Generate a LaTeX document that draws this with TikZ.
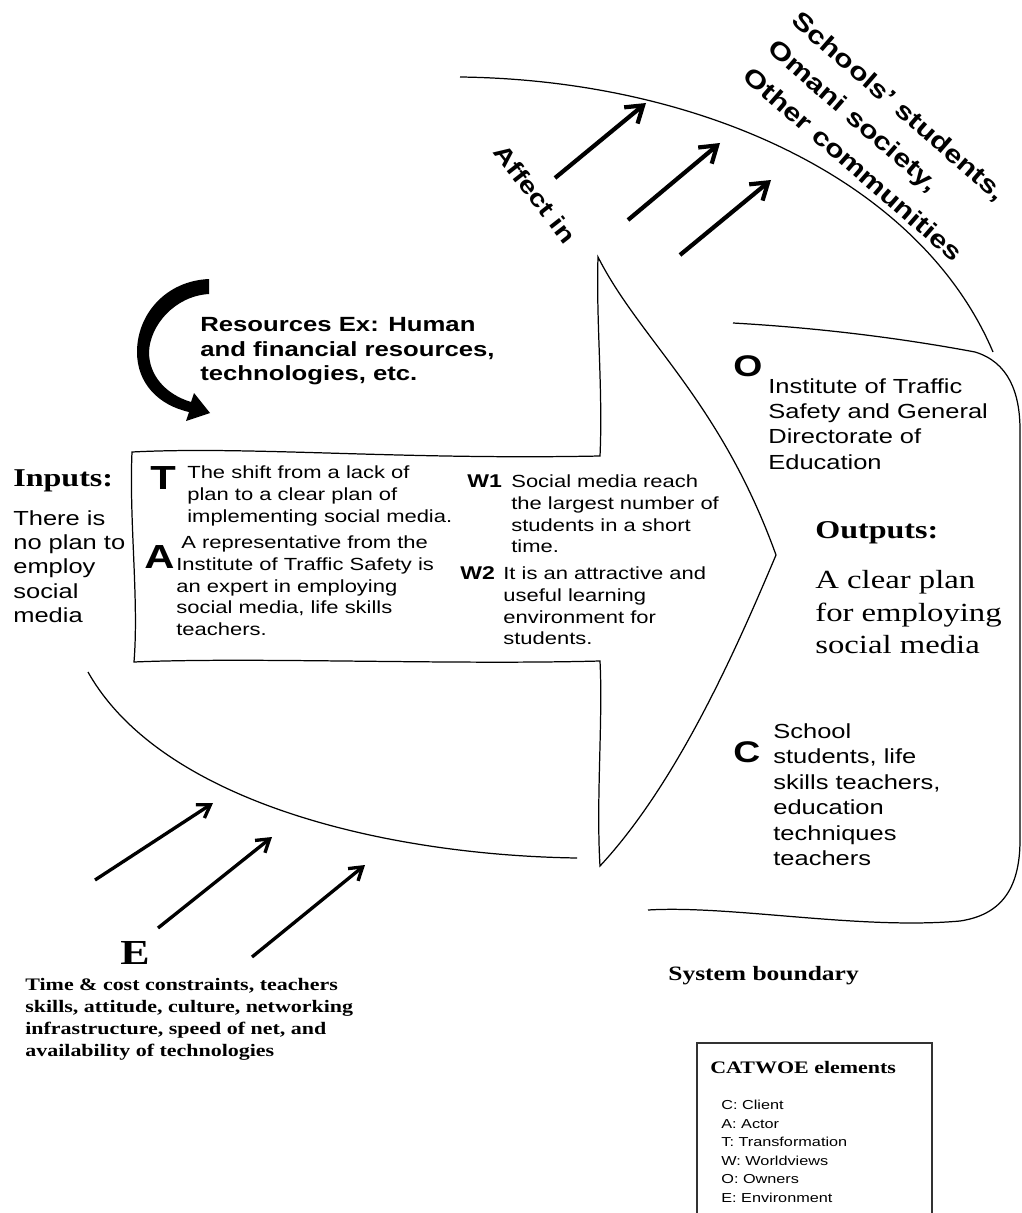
\documentclass[tikz,border=0pt]{standalone}
\usepackage{fontspec}
\setmainfont[FakeStretch=1.25]{Liberation Serif}
\setsansfont[FakeStretch=1.25]{Liberation Sans}
\usetikzlibrary{arrows.meta}

\tikzset{
  txt/.style={inner sep=0pt, anchor=north west, align=left},
  body/.style={txt, font=\sffamily\fontsize{11.6}{14.4}\selectfont},
  boxtext/.style={txt, font=\sffamily\fontsize{10}{12.5}\selectfont},
  bigletter/.style={txt, font=\sffamily\bfseries\fontsize{19}{19}\selectfont},
  sideletter/.style={txt, font=\sffamily\bfseries\fontsize{17}{17}\selectfont},
  wletter/.style={txt, font=\sffamily\bfseries\fontsize{10.5}{10.5}\selectfont},
  heading/.style={txt, font=\rmfamily\bfseries\fontsize{14.6}{14.6}\selectfont},
  edge/.style={line width=0.7pt},
  affectarrow/.style={line width=2.4pt, -{Straight Barb[length=9pt,width=12pt]}},
  envarrow/.style={line width=1.9pt, -{Straight Barb[length=7pt,width=9pt]}}
}

\begin{document}
\begin{tikzpicture}[x=0.02cm, y=-0.02cm]
\useasboundingbox (0,0) rectangle (1021,1213);

% system boundary curves
\draw[edge] (460,77) .. controls (700,80) and (920,180) .. (993,352);
\draw[edge] (88,672) .. controls (160,800) and (380,855) .. (577,858);
\draw[edge] (733,323) .. controls (820,328) and (900,338) .. (975,352)
  .. controls (1008,362) and (1020,392) .. (1020,430) -- (1020,840)
  .. controls (1020,890) and (1000,915) .. (960,921)
  .. controls (860,930) and (730,905) .. (648,910);

% transformation sheet and arrow
\draw[edge] (132,452) .. controls (250,446) and (400,460) .. (600,456)
  .. controls (603,390) and (596,320) .. (598,257)
  .. controls (640,340) and (720,400) .. (776,555)
  .. controls (740,640) and (680,780) .. (600,866)
  .. controls (596,800) and (603,720) .. (600,661)
  .. controls (450,665) and (250,657) .. (134,662)
  .. controls (139,600) and (129,520) .. (132,452) -- cycle;

% resources arrow
\fill (209,279) -- (209,294)
  .. controls (175,296) and (150,325) .. (149,352)
  .. controls (149,375) and (165,394) .. (191,402)
  -- (194,393) -- (210,413) -- (186,421) -- (189,412)
  .. controls (158,405) and (137,383) .. (137,352)
  .. controls (137,315) and (165,281) .. (209,279) -- cycle;
\node[txt, font=\sffamily\bfseries\fontsize{11.7}{14.05}\selectfont] (res) at (200,317)
  {Resources Ex: Human\\and financial resources,\\technologies, etc.};

% affected parties
\foreach \i/\sx/\sy/\tx/\ty in {1/555/178/646/103, 2/628/220/720/143, 3/680/255/771/180} {
  \coordinate (aff\i a) at (\sx,\sy);
  \coordinate (aff\i b) at (\tx,\ty);
  \draw[affectarrow] (aff\i a) -- (aff\i b);
}
\node[font=\sffamily\bfseries\fontsize{13.4}{13.4}\selectfont, inner sep=0pt, rotate=-52] (affect) at (535,194) {Affect in};
\node[txt, font=\sffamily\bfseries\fontsize{14}{21}\selectfont, rotate=-41] (affected) at (802,9)
  {Schools’ students,\\Omani society,\\Other communities};

% inputs
\node[heading] (inputs) at (13,469) {Inputs:};
\node[body, font=\sffamily\fontsize{11.6}{13.9}\selectfont] (inputtext) at (13,510)
  {There is\\no plan to\\employ\\social\\media};

% T, A, W1, W2
\node[bigletter] (tletter) at (150,466) {T};
\node[boxtext] (ttext) at (187,465)
  {The shift from a lack of\\plan to a clear plan of\\implementing social media.};
\node[bigletter] (aletter) at (144,545) {A};
\node[boxtext] (atext) at (176,535)
  {\hspace*{0.1cm}A representative from the\\Institute of Traffic Safety is\\an expert in employing\\social media, life skills\\teachers.};
\node[wletter] (wone) at (467,474) {W1};
\node[boxtext] (wonetext) at (511,474)
  {Social media reach\\the largest number of\\students in a short\\time.};
\node[wletter] (wtwo) at (460,566) {W2};
\node[boxtext] (wtwotext) at (503,566)
  {It is an attractive and\\useful learning\\environment for\\students.};

% owners, outputs, clients
\node[sideletter] (oletter) at (733,355) {O};
\node[body] (otext) at (768,378)
  {Institute of Traffic\\Safety and General\\Directorate of\\Education};
\node[heading] (outputs) at (815,521) {Outputs:};
\node[txt, font=\rmfamily\fontsize{14.9}{18.5}\selectfont] (outtext) at (815,570)
  {A clear plan\\for employing\\social media};
\node[sideletter] (cletter) at (733,741) {C};
\node[body, font=\sffamily\fontsize{11.6}{14.5}\selectfont] (ctext) at (773,723)
  {School\\students, life\\skills teachers,\\education\\techniques\\teachers};

% environment
\foreach \i/\sx/\sy/\tx/\ty in {1/95/880/213/803, 2/158/928/272/837, 3/252/957/365/865} {
  \coordinate (env\i a) at (\sx,\sy);
  \coordinate (env\i b) at (\tx,\ty);
  \draw[envarrow] (env\i a) -- (env\i b);
}
\node[txt, font=\rmfamily\bfseries\fontsize{20}{20}\selectfont] (eletter) at (120,941) {E};
\node[txt, font=\rmfamily\bfseries\fontsize{10}{12.5}\selectfont] (etext) at (25,978)
  {Time \& cost constraints, teachers\\skills, attitude, culture, networking\\infrastructure, speed of net, and\\availability of technologies};

\node[txt, font=\rmfamily\bfseries\fontsize{11.6}{11.6}\selectfont] (boundary) at (668,966) {System boundary};

% legend
\draw[line width=1pt, black!80] (697,1220) -- (697,1043) -- (932,1043) -- (932,1220);
\node[txt, font=\rmfamily\bfseries\fontsize{10}{10}\selectfont] (legendtitle) at (710,1061) {CATWOE elements};
\node[txt, font=\sffamily\fontsize{7.4}{10.5}\selectfont] (legendlist) at (721,1100)
  {C: Client\\A: Actor\\T: Transformation\\W: Worldviews\\O: Owners\\E: Environment};

\end{tikzpicture}
\end{document}
